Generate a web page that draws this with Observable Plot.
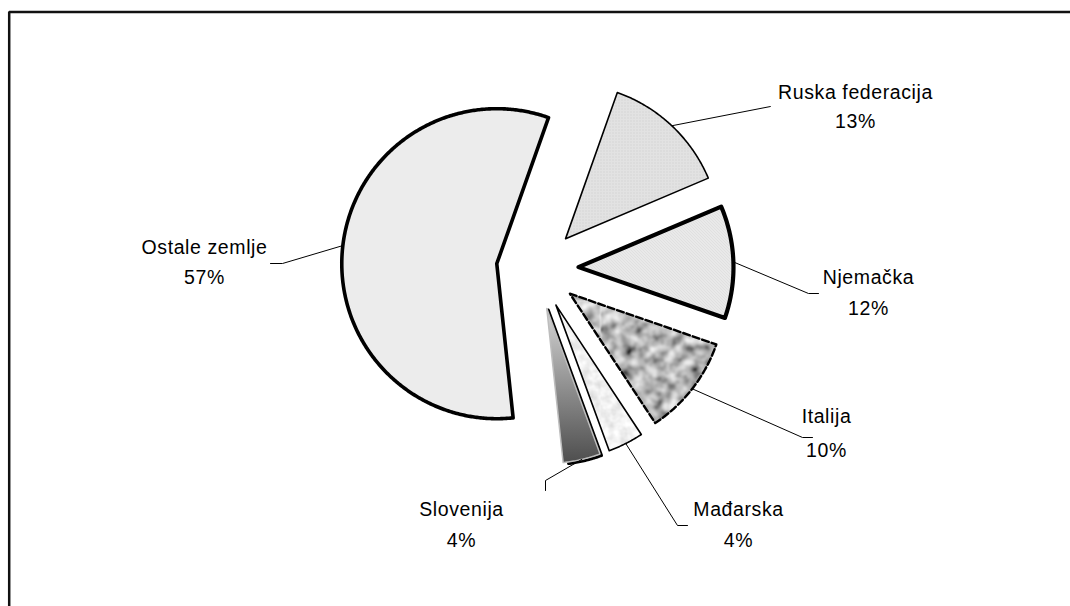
<!DOCTYPE html>
<html><head><meta charset="utf-8">
<script src="https://cdn.jsdelivr.net/npm/d3@7"></script>
<script src="https://cdn.jsdelivr.net/npm/@observablehq/plot@0.6"></script>
<style>html,body{margin:0;padding:0;background:#fff;overflow:hidden;width:1070px;height:606px}#chart{position:absolute;left:0;top:0;width:1070px;height:606px;overflow:hidden}#chart svg{display:block;max-width:none}</style>
</head><body><div id="chart"></div>
<script>
// ---- data ----
const countries = ["Ruska federacija", "Njemačka", "Italija", "Mađarska", "Slovenija", "Ostale zemlje"];
const shares = [13.2, 11.7, 10.4, 3.7, 3.9, 57.1];
const shareLabels = ["13%", "12%", "10%", "4%", "4%", "57%"];

// ---- layout (pixels) ----
const W = 1070, H = 606;
const CX = 537, CY = 268, R = 155, EXPLODE = 41, START_DEG = 19.5;
const FRAME_LEFT = 8.7, FRAME_TOP = 11.5;
const sliceFills = ["url(#pRuska)", "url(#pNjem)", "url(#pItal)", "url(#pMadj)", "url(#gSlov)", "url(#pOstale)"];
const sliceStrokes = [
  {stroke: "#000", strokeWidth: 1.6},
  {stroke: "#000", strokeWidth: 4.2},
  {stroke: "#000", strokeWidth: 2.4, strokeDasharray: "7,3"},
  {stroke: "#000", strokeWidth: 1.6},
  {stroke: "#bdbdbd", strokeWidth: 1.5},
  {stroke: "#000", strokeWidth: 3.6}
];
const labelLayout = [
  {x: 855, y1: 98,  y2: 127, elbow: [770, 106], end: [770, 106]},
  {x: 868, y1: 283, y2: 314, elbow: [808, 293], end: [818, 293]},
  {x: 826, y1: 422, y2: 456, elbow: [802, 437], end: [812, 437]},
  {x: 738, y1: 515, y2: 546, elbow: [677, 525], end: [687, 525]},
  {x: 461, y1: 515, y2: 546, elbow: [545, 480], end: [545, 490]},
  {x: 204, y1: 253, y2: 283, elbow: [282, 263], end: [270, 263]}
];
const framePath = [{x: FRAME_LEFT, y: H}, {x: FRAME_LEFT, y: FRAME_TOP}, {x: W, y: FRAME_TOP}];

// ---- geometry from data ----
const rad = d => d * Math.PI / 180;
const pie = d3.pie().sort(null).value(d => d)
  .startAngle(rad(START_DEG)).endAngle(rad(START_DEG) + 2 * Math.PI);
const arcs = pie(shares);
const slices = arcs.map((a, i) => {
  const mid = (a.startAngle + a.endAngle) / 2;
  const ax = CX + EXPLODE * Math.sin(mid), ay = CY - EXPLODE * Math.cos(mid);
  const pts = [{x: ax, y: ay}];
  const n = Math.max(8, Math.ceil((a.endAngle - a.startAngle) / rad(0.5)));
  for (let k = 0; k <= n; k++) {
    const t = a.startAngle + (a.endAngle - a.startAngle) * k / n;
    pts.push({x: ax + R * Math.sin(t), y: ay - R * Math.cos(t)});
  }
  const midPt = {x: ax + R * Math.sin(mid), y: ay - R * Math.cos(mid)};
  return {name: countries[i], pts, midPt};
});

const slovPts = slices[4].pts;
const shadowPts = slovPts.slice(0, 1 + Math.ceil((slovPts.length - 1) * 0.9));

const leaders = [];
slices.forEach((s, i) => {
  const L = labelLayout[i];
  leaders.push({name: s.name, x: s.midPt.x, y: s.midPt.y});
  leaders.push({name: s.name, x: L.elbow[0], y: L.elbow[1]});
  leaders.push({name: s.name, x: L.end[0], y: L.end[1]});
});
const nameLabels = countries.map((c, i) => ({t: c, x: labelLayout[i].x, y: labelLayout[i].y1}));
const pctLabels = shareLabels.map((c, i) => ({t: c, x: labelLayout[i].x, y: labelLayout[i].y2}));

const marks = [
  Plot.line(framePath, {x: "x", y: "y", stroke: "#111", strokeWidth: 2.5, strokeLinejoin: "miter", strokeLinecap: "butt"}),
  Plot.line(shadowPts, {x: "x", y: "y", stroke: "#000", strokeWidth: 3, dx: 1.5, dy: 1.5, strokeLinejoin: "round"})
];
slices.forEach((s, i) => {
  marks.push(Plot.line(s.pts, {x: "x", y: "y", curve: "linear-closed", fill: sliceFills[i], strokeLinejoin: "round", ...sliceStrokes[i]}));
});
marks.push(Plot.line(leaders, {x: "x", y: "y", z: "name", stroke: "#000", strokeWidth: 1}));
marks.push(Plot.text(nameLabels, {x: "x", y: "y", text: "t", lineAnchor: "bottom", fontSize: 19.5, fill: "#000"}));
marks.push(Plot.text(pctLabels, {x: "x", y: "y", text: "t", lineAnchor: "bottom", fontSize: 19.5, fill: "#000"}));

const svg = Plot.plot({
  width: W, height: H, margin: 0,
  x: {domain: [0, W], range: [0, W], axis: null},
  y: {domain: [0, H], range: [0, H], axis: null},
  style: {fontFamily: "'Liberation Sans', Arial, sans-serif", letterSpacing: "0.6px", background: "#fff", overflow: "hidden"},
  marks
});

d3.select(svg).insert("defs", ":first-child").html(`
  <pattern id="pOstale" patternUnits="userSpaceOnUse" width="2" height="2">
    <rect width="2" height="2" fill="#f3f3f3"/><rect width="1" height="1" fill="#e4e4e4"/><rect x="1" y="1" width="1" height="1" fill="#e4e4e4"/>
  </pattern>
  <pattern id="pRuska" patternUnits="userSpaceOnUse" width="3" height="3">
    <rect width="3" height="3" fill="#e2e2e2"/><rect width="1" height="1" fill="#cbcbcb"/>
  </pattern>
  <pattern id="pNjem" patternUnits="userSpaceOnUse" width="3" height="3">
    <rect width="3" height="3" fill="#f2f2f2"/><path d="M0,0 L3,3" stroke="#cdcdcd" stroke-width="1"/>
  </pattern>
  <filter id="fGranite" x="0" y="0" width="100%" height="100%">
    <feTurbulence type="fractalNoise" baseFrequency="0.09" numOctaves="3" seed="11"/>
    <feColorMatrix type="matrix" values="1 0 0 0 0  1 0 0 0 0  1 0 0 0 0  0 0 0 0 1"/>
    <feComponentTransfer><feFuncR type="linear" slope="1.4" intercept="-0.22"/><feFuncG type="linear" slope="1.4" intercept="-0.22"/><feFuncB type="linear" slope="1.4" intercept="-0.22"/></feComponentTransfer>
    <feGaussianBlur stdDeviation="0.8"/>
  </filter>
  <pattern id="pItal" patternUnits="userSpaceOnUse" width="300" height="300">
    <rect width="300" height="300" filter="url(#fGranite)"/>
  </pattern>
  <filter id="fMarble" x="0" y="0" width="100%" height="100%">
    <feTurbulence type="fractalNoise" baseFrequency="0.1" numOctaves="3" seed="3"/>
    <feColorMatrix type="matrix" values="1 0 0 0 0  1 0 0 0 0  1 0 0 0 0  0 0 0 0 1"/>
    <feComponentTransfer><feFuncR type="linear" slope="0.55" intercept="0.6"/><feFuncG type="linear" slope="0.55" intercept="0.6"/><feFuncB type="linear" slope="0.55" intercept="0.6"/></feComponentTransfer>
  </filter>
  <pattern id="pMadj" patternUnits="userSpaceOnUse" width="300" height="300">
    <rect width="300" height="300" filter="url(#fMarble)"/>
  </pattern>
  <linearGradient id="gSlov" x1="0" y1="0" x2="0" y2="1">
    <stop offset="0" stop-color="#d6d6d6"/><stop offset="0.55" stop-color="#8a8a8a"/><stop offset="1" stop-color="#4e4e4e"/>
  </linearGradient>
`);
document.getElementById("chart").appendChild(svg);
</script>
</body></html>
